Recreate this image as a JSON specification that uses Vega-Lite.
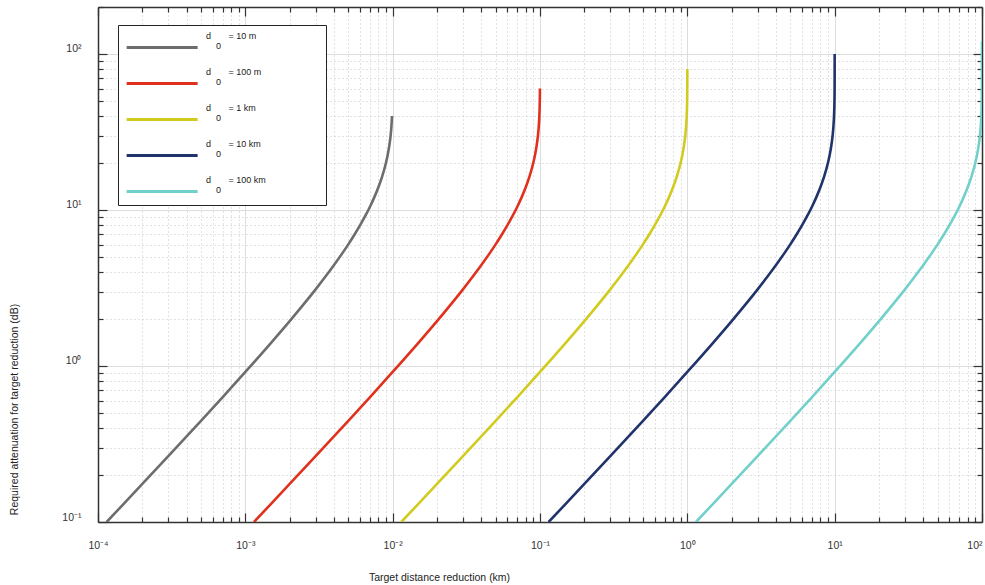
{
  "$schema": "https://vega.github.io/schema/vega-lite/v6.json",
  "width": 884,
  "height": 515,
  "autosize": "none",
  "padding": {"left": 98, "top": 7, "right": 3, "bottom": 63},
  "background": "white",
  "config": {
    "view": {"stroke": null},
    "font": "Liberation Sans",
    "axis": {
      "domainColor": "#333333",
      "domainWidth": 1.5,
      "tickColor": "#333333",
      "tickWidth": 1.2,
      "labelFont": "Liberation Sans",
      "labelFontSize": 10.5,
      "labelColor": "#333333",
      "titleFont": "Liberation Sans",
      "titleFontSize": 10.5,
      "titleFontWeight": "normal",
      "titleColor": "#222222"
    },
    "legend": {
      "labelFont": "Liberation Sans"
    }
  },
  "data": {
    "values": [
      {"d": "10 m", "x": 0.00011447, "y": 0.1},
      {"d": "10 m", "x": 0.00015, "y": 0.13127},
      {"d": "10 m", "x": 0.0002, "y": 0.17548},
      {"d": "10 m", "x": 0.0003, "y": 0.26457},
      {"d": "10 m", "x": 0.0005, "y": 0.44553},
      {"d": "10 m", "x": 0.0007, "y": 0.63035},
      {"d": "10 m", "x": 0.001, "y": 0.91515},
      {"d": "10 m", "x": 0.0015, "y": 1.41161},
      {"d": "10 m", "x": 0.002, "y": 1.9382},
      {"d": "10 m", "x": 0.0025, "y": 2.49877},
      {"d": "10 m", "x": 0.003, "y": 3.09804},
      {"d": "10 m", "x": 0.0035, "y": 3.74173},
      {"d": "10 m", "x": 0.004, "y": 4.43697},
      {"d": "10 m", "x": 0.0045, "y": 5.19275},
      {"d": "10 m", "x": 0.005, "y": 6.0206},
      {"d": "10 m", "x": 0.0055, "y": 6.93575},
      {"d": "10 m", "x": 0.006, "y": 7.9588},
      {"d": "10 m", "x": 0.0065, "y": 9.11864},
      {"d": "10 m", "x": 0.007, "y": 10.4576},
      {"d": "10 m", "x": 0.0075, "y": 12.0412},
      {"d": "10 m", "x": 0.008, "y": 13.9794},
      {"d": "10 m", "x": 0.0085, "y": 16.4782},
      {"d": "10 m", "x": 0.009, "y": 20},
      {"d": "10 m", "x": 0.0093, "y": 23.098},
      {"d": "10 m", "x": 0.0095, "y": 26.021},
      {"d": "10 m", "x": 0.0097, "y": 30.458},
      {"d": "10 m", "x": 0.0098, "y": 33.979},
      {"d": "10 m", "x": 0.0099, "y": 40},

      {"d": "100 m", "x": 0.0011447, "y": 0.1},
      {"d": "100 m", "x": 0.0015, "y": 0.13127},
      {"d": "100 m", "x": 0.002, "y": 0.17548},
      {"d": "100 m", "x": 0.003, "y": 0.26457},
      {"d": "100 m", "x": 0.005, "y": 0.44553},
      {"d": "100 m", "x": 0.007, "y": 0.63035},
      {"d": "100 m", "x": 0.01, "y": 0.91515},
      {"d": "100 m", "x": 0.015, "y": 1.41161},
      {"d": "100 m", "x": 0.02, "y": 1.9382},
      {"d": "100 m", "x": 0.025, "y": 2.49877},
      {"d": "100 m", "x": 0.03, "y": 3.09804},
      {"d": "100 m", "x": 0.035, "y": 3.74173},
      {"d": "100 m", "x": 0.04, "y": 4.43697},
      {"d": "100 m", "x": 0.045, "y": 5.19275},
      {"d": "100 m", "x": 0.05, "y": 6.0206},
      {"d": "100 m", "x": 0.055, "y": 6.93575},
      {"d": "100 m", "x": 0.06, "y": 7.9588},
      {"d": "100 m", "x": 0.065, "y": 9.11864},
      {"d": "100 m", "x": 0.07, "y": 10.4576},
      {"d": "100 m", "x": 0.075, "y": 12.0412},
      {"d": "100 m", "x": 0.08, "y": 13.9794},
      {"d": "100 m", "x": 0.085, "y": 16.4782},
      {"d": "100 m", "x": 0.09, "y": 20},
      {"d": "100 m", "x": 0.093, "y": 23.098},
      {"d": "100 m", "x": 0.095, "y": 26.021},
      {"d": "100 m", "x": 0.097, "y": 30.458},
      {"d": "100 m", "x": 0.098, "y": 33.979},
      {"d": "100 m", "x": 0.099, "y": 40},
      {"d": "100 m", "x": 0.0995, "y": 46.021},
      {"d": "100 m", "x": 0.0998, "y": 53.979},
      {"d": "100 m", "x": 0.0999, "y": 60},

      {"d": "1 km", "x": 0.011447, "y": 0.1},
      {"d": "1 km", "x": 0.015, "y": 0.13127},
      {"d": "1 km", "x": 0.02, "y": 0.17548},
      {"d": "1 km", "x": 0.03, "y": 0.26457},
      {"d": "1 km", "x": 0.05, "y": 0.44553},
      {"d": "1 km", "x": 0.07, "y": 0.63035},
      {"d": "1 km", "x": 0.1, "y": 0.91515},
      {"d": "1 km", "x": 0.15, "y": 1.41161},
      {"d": "1 km", "x": 0.2, "y": 1.9382},
      {"d": "1 km", "x": 0.25, "y": 2.49877},
      {"d": "1 km", "x": 0.3, "y": 3.09804},
      {"d": "1 km", "x": 0.35, "y": 3.74173},
      {"d": "1 km", "x": 0.4, "y": 4.43697},
      {"d": "1 km", "x": 0.45, "y": 5.19275},
      {"d": "1 km", "x": 0.5, "y": 6.0206},
      {"d": "1 km", "x": 0.55, "y": 6.93575},
      {"d": "1 km", "x": 0.6, "y": 7.9588},
      {"d": "1 km", "x": 0.65, "y": 9.11864},
      {"d": "1 km", "x": 0.7, "y": 10.4576},
      {"d": "1 km", "x": 0.75, "y": 12.0412},
      {"d": "1 km", "x": 0.8, "y": 13.9794},
      {"d": "1 km", "x": 0.85, "y": 16.4782},
      {"d": "1 km", "x": 0.9, "y": 20},
      {"d": "1 km", "x": 0.93, "y": 23.098},
      {"d": "1 km", "x": 0.95, "y": 26.021},
      {"d": "1 km", "x": 0.97, "y": 30.458},
      {"d": "1 km", "x": 0.98, "y": 33.979},
      {"d": "1 km", "x": 0.99, "y": 40},
      {"d": "1 km", "x": 0.995, "y": 46.021},
      {"d": "1 km", "x": 0.998, "y": 53.979},
      {"d": "1 km", "x": 0.999, "y": 60},
      {"d": "1 km", "x": 0.9995, "y": 66.021},
      {"d": "1 km", "x": 0.9998, "y": 73.979},
      {"d": "1 km", "x": 0.9999, "y": 80},

      {"d": "10 km", "x": 0.11447, "y": 0.1},
      {"d": "10 km", "x": 0.15, "y": 0.13127},
      {"d": "10 km", "x": 0.2, "y": 0.17548},
      {"d": "10 km", "x": 0.3, "y": 0.26457},
      {"d": "10 km", "x": 0.5, "y": 0.44553},
      {"d": "10 km", "x": 0.7, "y": 0.63035},
      {"d": "10 km", "x": 1, "y": 0.91515},
      {"d": "10 km", "x": 1.5, "y": 1.41161},
      {"d": "10 km", "x": 2, "y": 1.9382},
      {"d": "10 km", "x": 2.5, "y": 2.49877},
      {"d": "10 km", "x": 3, "y": 3.09804},
      {"d": "10 km", "x": 3.5, "y": 3.74173},
      {"d": "10 km", "x": 4, "y": 4.43697},
      {"d": "10 km", "x": 4.5, "y": 5.19275},
      {"d": "10 km", "x": 5, "y": 6.0206},
      {"d": "10 km", "x": 5.5, "y": 6.93575},
      {"d": "10 km", "x": 6, "y": 7.9588},
      {"d": "10 km", "x": 6.5, "y": 9.11864},
      {"d": "10 km", "x": 7, "y": 10.4576},
      {"d": "10 km", "x": 7.5, "y": 12.0412},
      {"d": "10 km", "x": 8, "y": 13.9794},
      {"d": "10 km", "x": 8.5, "y": 16.4782},
      {"d": "10 km", "x": 9, "y": 20},
      {"d": "10 km", "x": 9.3, "y": 23.098},
      {"d": "10 km", "x": 9.5, "y": 26.021},
      {"d": "10 km", "x": 9.7, "y": 30.458},
      {"d": "10 km", "x": 9.8, "y": 33.979},
      {"d": "10 km", "x": 9.9, "y": 40},
      {"d": "10 km", "x": 9.95, "y": 46.021},
      {"d": "10 km", "x": 9.98, "y": 53.979},
      {"d": "10 km", "x": 9.99, "y": 60},
      {"d": "10 km", "x": 9.995, "y": 66.021},
      {"d": "10 km", "x": 9.998, "y": 73.979},
      {"d": "10 km", "x": 9.999, "y": 80},
      {"d": "10 km", "x": 9.9995, "y": 86.021},
      {"d": "10 km", "x": 9.9998, "y": 93.979},
      {"d": "10 km", "x": 9.9999, "y": 100},

      {"d": "100 km", "x": 1.1447, "y": 0.1},
      {"d": "100 km", "x": 1.5, "y": 0.13127},
      {"d": "100 km", "x": 2, "y": 0.17548},
      {"d": "100 km", "x": 3, "y": 0.26457},
      {"d": "100 km", "x": 5, "y": 0.44553},
      {"d": "100 km", "x": 7, "y": 0.63035},
      {"d": "100 km", "x": 10, "y": 0.91515},
      {"d": "100 km", "x": 15, "y": 1.41161},
      {"d": "100 km", "x": 20, "y": 1.9382},
      {"d": "100 km", "x": 25, "y": 2.49877},
      {"d": "100 km", "x": 30, "y": 3.09804},
      {"d": "100 km", "x": 35, "y": 3.74173},
      {"d": "100 km", "x": 40, "y": 4.43697},
      {"d": "100 km", "x": 45, "y": 5.19275},
      {"d": "100 km", "x": 50, "y": 6.0206},
      {"d": "100 km", "x": 55, "y": 6.93575},
      {"d": "100 km", "x": 60, "y": 7.9588},
      {"d": "100 km", "x": 65, "y": 9.11864},
      {"d": "100 km", "x": 70, "y": 10.4576},
      {"d": "100 km", "x": 75, "y": 12.0412},
      {"d": "100 km", "x": 80, "y": 13.9794},
      {"d": "100 km", "x": 85, "y": 16.4782},
      {"d": "100 km", "x": 90, "y": 20},
      {"d": "100 km", "x": 93, "y": 23.098},
      {"d": "100 km", "x": 95, "y": 26.021},
      {"d": "100 km", "x": 97, "y": 30.458},
      {"d": "100 km", "x": 98, "y": 33.979},
      {"d": "100 km", "x": 99, "y": 40},
      {"d": "100 km", "x": 99.5, "y": 46.021},
      {"d": "100 km", "x": 99.8, "y": 53.979},
      {"d": "100 km", "x": 99.9, "y": 60},
      {"d": "100 km", "x": 99.95, "y": 66.021},
      {"d": "100 km", "x": 99.98, "y": 73.979},
      {"d": "100 km", "x": 99.99, "y": 80},
      {"d": "100 km", "x": 99.995, "y": 86.021},
      {"d": "100 km", "x": 99.998, "y": 93.979},
      {"d": "100 km", "x": 99.999, "y": 100},
      {"d": "100 km", "x": 99.9995, "y": 106.021},
      {"d": "100 km", "x": 99.9998, "y": 113.979},
      {"d": "100 km", "x": 99.9999, "y": 120}
    ]
  },
  "resolve": {"axis": {"x": "independent", "y": "independent"}},
  "layer": [
    {
      "mark": {"type": "line", "opacity": 0, "clip": true},
      "encoding": {
        "x": {
          "field": "x", "type": "quantitative",
          "scale": {"type": "log", "domain": [0.0001, 100], "nice": false},
          "axis": {
            "orient": "top", "labels": false, "grid": false, "title": null,
            "values": [0.0001,0.0002,0.0003,0.0004,0.0005,0.0006,0.0007,0.0008,0.0009,0.001,0.002,0.003,0.004,0.005,0.006,0.007,0.008,0.009,0.01,0.02,0.03,0.04,0.05,0.06,0.07,0.08,0.09,0.1,0.2,0.3,0.4,0.5,0.6,0.7,0.8,0.9,1,2,3,4,5,6,7,8,9,10,20,30,40,50,60,70,80,90,100],
            "tickSize": {"condition": {"test": "abs(log(datum.value)/LN10 - round(log(datum.value)/LN10)) < 1e-6", "value": -9}, "value": -5}
          }
        },
        "y": {
          "field": "y", "type": "quantitative",
          "scale": {"type": "log", "domain": [0.1, 200], "nice": false},
          "axis": {
            "orient": "right", "labels": false, "grid": false, "title": null,
            "values": [0.1,0.2,0.3,0.4,0.5,0.6,0.7,0.8,0.9,1,2,3,4,5,6,7,8,9,10,20,30,40,50,60,70,80,90,100,200],
            "tickSize": {"condition": {"test": "abs(log(datum.value)/LN10 - round(log(datum.value)/LN10)) < 1e-6", "value": -9}, "value": -5}
          }
        }
      }
    },
    {
      "mark": {"type": "line", "strokeWidth": 2.6, "interpolate": "monotone", "clip": true},
      "encoding": {
        "x": {
          "field": "x", "type": "quantitative",
          "scale": {"type": "log", "domain": [0.0001, 100], "nice": false},
          "axis": {
            "orient": "bottom",
            "title": "Target distance reduction (km)",
            "titleX": 341, "titleY": 55, "titleBaseline": "middle",
            "values": [0.0001,0.0002,0.0003,0.0004,0.0005,0.0006,0.0007,0.0008,0.0009,0.001,0.002,0.003,0.004,0.005,0.006,0.007,0.008,0.009,0.01,0.02,0.03,0.04,0.05,0.06,0.07,0.08,0.09,0.1,0.2,0.3,0.4,0.5,0.6,0.7,0.8,0.9,1,2,3,4,5,6,7,8,9,10,20,30,40,50,60,70,80,90,100],
            "labelExpr": "abs(log(datum.value)/LN10 - round(log(datum.value)/LN10)) < 1e-6 ? '10' + ['⁻⁴','⁻³','⁻²','⁻¹','⁰','¹','²'][round(log(datum.value)/LN10)+4] : ''",
            "labelFlush": false,
            "labelOverlap": false,
            "labelPadding": 27,
            "labelAlign": {"condition": {"test": "datum.value > 99", "value": "right"}, "value": "center"},
            "grid": true,
            "gridColor": {"condition": {"test": "abs(log(datum.value)/LN10 - round(log(datum.value)/LN10)) < 1e-6", "value": "#dddddd"}, "value": "#c4c4c4"},
            "gridDash": {"condition": {"test": "abs(log(datum.value)/LN10 - round(log(datum.value)/LN10)) < 1e-6", "value": []}, "value": [1, 3]},
            "gridWidth": 1,
            "tickSize": {"condition": {"test": "abs(log(datum.value)/LN10 - round(log(datum.value)/LN10)) < 1e-6", "value": -9}, "value": -5}
          }
        },
        "y": {
          "field": "y", "type": "quantitative",
          "scale": {"type": "log", "domain": [0.1, 200], "nice": false},
          "axis": {
            "orient": "left",
            "title": "Required attenuation for target reduction (dB)",
            "titleX": -84, "titleY": 402, "titleAngle": -90, "titleBaseline": "middle",
            "values": [0.1,0.2,0.3,0.4,0.5,0.6,0.7,0.8,0.9,1,2,3,4,5,6,7,8,9,10,20,30,40,50,60,70,80,90,100,200],
            "labelExpr": "abs(log(datum.value)/LN10 - round(log(datum.value)/LN10)) < 1e-6 ? '10' + ['⁻⁴','⁻³','⁻²','⁻¹','⁰','¹','²'][round(log(datum.value)/LN10)+4] : ''",
            "labelFlush": false,
            "labelOverlap": false,
            "labelPadding": 26,
            "labelBaseline": "bottom",
            "grid": true,
            "gridColor": {"condition": {"test": "abs(log(datum.value)/LN10 - round(log(datum.value)/LN10)) < 1e-6", "value": "#dddddd"}, "value": "#c4c4c4"},
            "gridDash": {"condition": {"test": "abs(log(datum.value)/LN10 - round(log(datum.value)/LN10)) < 1e-6", "value": []}, "value": [1, 3]},
            "gridWidth": 1,
            "tickSize": {"condition": {"test": "abs(log(datum.value)/LN10 - round(log(datum.value)/LN10)) < 1e-6", "value": -9}, "value": -5}
          }
        },
        "color": {
          "field": "d", "type": "nominal",
          "scale": {
            "domain": ["10 m", "100 m", "1 km", "10 km", "100 km"],
            "range": ["#6d6d6d", "#e0311f", "#d2cb1f", "#21336b", "#72d0cb"]
          },
          "legend": {
            "orient": "none", "legendX": 20, "legendY": 18,
            "title": null,
            "symbolType": "M-0.21,1.35H7.79",
            "symbolSize": 315,
            "symbolStrokeWidth": 3,
            "symbolFillColor": "transparent",
            "labelFontSize": 9,
            "labelColor": "#222222",
            "labelOffset": 67,
            "labelBaseline": "middle",
            "labelExpr": "['d\u00a0\u00a0\u00a0\u00a0\u00a0\u00a0\u00a0= ' + datum.label + '\u00a0\u00a0\u00a0\u00a0\u00a0\u00a0\u00a0\u00a0\u00a0\u00a0\u00a0\u00a0\u00a0\u00a0\u00a0\u00a0\u00a0\u00a0\u00a0\u00a0\u00a0\u00a0\u00a0\u00a0\u200b', '\u200b\u00a0\u00a0\u00a0\u00a00', '\u00a0\u200b']",
            "encode": {"labels": {"update": {"lineHeight": {"value": 10}}}},
            "padding": 0,
            "rowPadding": 0,
            "strokeColor": "#222222",
            "fillColor": "white"
          }
        }
      }
    }
  ]
}
